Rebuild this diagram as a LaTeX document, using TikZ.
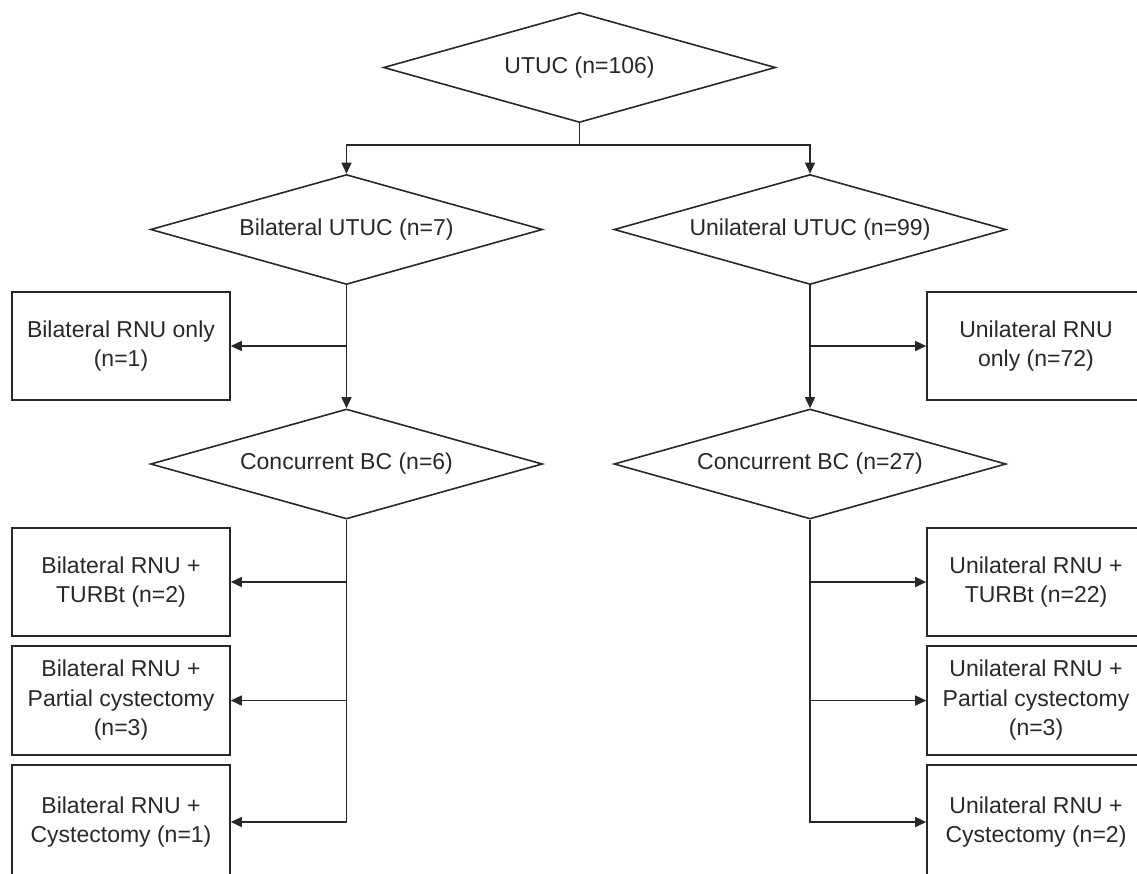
\documentclass[tikz,border=0pt]{standalone}
\usepackage{fontspec}
\setmainfont{Liberation Sans}
\usetikzlibrary{shapes.geometric,arrows.meta}
\definecolor{ink}{RGB}{40,40,40}
\begin{document}
\begin{tikzpicture}[x=1pt,y=-1pt,
  every node/.style={font=\fontsize{23}{29.5}\selectfont, text=ink},
  dia/.style={diamond, draw=ink, line width=1.6pt, minimum width=392pt, minimum height=110pt, aspect=3.56, inner sep=0pt},
  boxn/.style={rectangle, draw=ink, line width=1.6pt, minimum width=218pt, minimum height=108pt, align=center, inner sep=0pt},
  line/.style={draw=ink, line width=1.6pt},
  conn/.style={line, -{Triangle[length=11pt,width=10pt]}}]
\useasboundingbox (0,0) rectangle (1137,873);
\clip (0,0) rectangle (1137,873);
\node[dia] (top) at (579.5,67.5) {UTUC (n=106)};
\node[dia] (bil) at (346.5,229.5) {Bilateral UTUC (n=7)};
\node[dia] (uni) at (810,229.5) {Unilateral UTUC (n=99)};
\node[boxn] (bo) at (121,346) {Bilateral RNU only\\(n=1)};
\node[boxn] (uo) at (1036,346) {Unilateral RNU\\only (n=72)};
\node[dia] (cb) at (346.5,464) {Concurrent BC (n=6)};
\node[dia] (cu) at (810,464) {Concurrent BC (n=27)};
\node[boxn] (bt) at (121,582) {Bilateral RNU +\\TURBt (n=2)};
\node[boxn, minimum height=109pt] (bp) at (121,700.5) {Bilateral RNU +\\Partial cystectomy\\(n=3)};
\node[boxn, minimum height=114pt] (bc) at (121,822) {Bilateral RNU +\\Cystectomy (n=1)};
\node[boxn] (ut) at (1036,582) {Unilateral RNU +\\TURBt (n=22)};
\node[boxn, minimum height=109pt] (up) at (1036,700.5) {Unilateral RNU +\\Partial cystectomy\\(n=3)};
\node[boxn, minimum height=114pt] (uc) at (1036,822) {Unilateral RNU +\\Cystectomy (n=2)};
\coordinate (j0) at (579.5,145);
\draw[line] (top.south) -- (j0);
\draw[conn] (j0) -| (bil.north);
\draw[conn] (j0) -| (uni.north);
\draw[conn] (bil.south) -- (cb.north);
\draw[conn] (bo.east -| bil.south) -- (bo.east);
\draw[conn] (uni.south) -- (cu.north);
\draw[conn] (uo.west -| uni.south) -- (uo.west);
\draw[conn] (cb.south) |- (bc.east);
\draw[conn] (bt.east -| cb.south) -- (bt.east);
\draw[conn] (bp.east -| cb.south) -- (bp.east);
\draw[conn] (cu.south) |- (uc.west);
\draw[conn] (ut.west -| cu.south) -- (ut.west);
\draw[conn] (up.west -| cu.south) -- (up.west);
\end{tikzpicture}
\end{document}
